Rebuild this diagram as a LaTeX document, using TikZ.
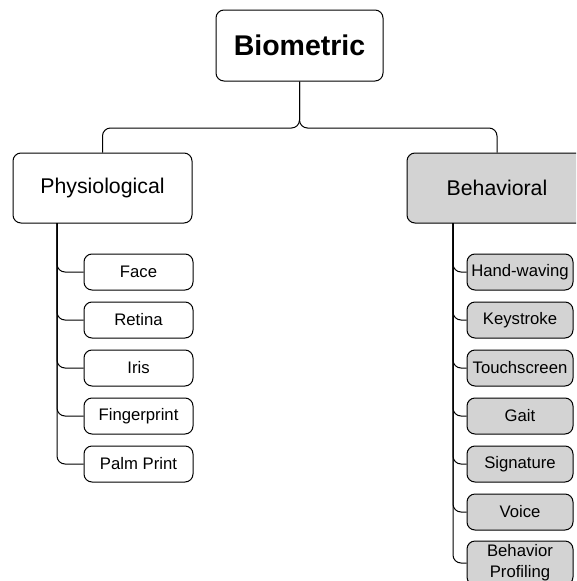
\documentclass[tikz,border=0pt]{standalone}
\usepackage{fontspec}
\setmainfont{Liberation Sans}
\definecolor{boxgray}{RGB}{211,211,211}
\begin{document}
\begin{tikzpicture}[x=1pt,y=-1pt,
  base/.style={draw=black,line width=1pt,rounded corners=8pt,inner sep=0pt,align=center},
  topbox/.style={base,minimum width=167pt,minimum height=71pt,font=\fontsize{28.5}{32}\selectfont\bfseries},
  midbox/.style={base,minimum width=179pt,minimum height=70pt,font=\fontsize{21.3}{25}\selectfont},
  leaf/.style={base,minimum width=109pt,minimum height=36pt,font=\fontsize{16.7}{22}\selectfont},
  gleaf/.style={leaf,fill=boxgray,minimum width=106pt},
  conn/.style={draw=black,line width=1pt,rounded corners=8pt}]
\useasboundingbox (0,0) rectangle (576,581);
\clip (0,0) rectangle (576,581);
\node[topbox] (bio) at (299.5,45.5) {Biometric};
\node[midbox] (phys) at (102.5,188) {Physiological};
\node[midbox,fill=boxgray,minimum width=180pt] (beh) at (497,188) {Behavioral};
\coordinate (bus) at (299.5,128);
\draw[conn] (bio.south) -- (bus) -| (phys.north);
\draw[conn] (bio.south) -- (bus) -| (beh.north);
% left leaves
\node[leaf] (face) at (138.5,272) {Face};
\node[leaf] (retina) at (138.5,320) {Retina};
\node[leaf] (iris) at (138.5,368) {Iris};
\node[leaf] (finger) at (138.5,416) {Fingerprint};
\node[leaf] (palm) at (138.5,464) {Palm Print};
\coordinate (pl) at (57,223);
\foreach \n in {face,retina,iris,finger,palm}
  \draw[conn] (pl) |- (\n.west);
% right leaves
\node[gleaf] (hand) at (520,272) {Hand-waving};
\node[gleaf] (key) at (520,320) {Keystroke};
\node[gleaf] (touch) at (520,368) {Touchscreen};
\node[gleaf] (gait) at (520,416) {Gait};
\node[gleaf] (sig) at (520,464) {Signature};
\node[gleaf] (voice) at (520,512) {Voice};
\node[gleaf,minimum height=44pt,font=\fontsize{16.7}{21}\selectfont] (prof) at (520,563) {Behavior\\Profiling};
\coordinate (bl) at (453,223);
\foreach \n in {hand,key,touch,gait,sig,voice,prof}
  \draw[conn] (bl) |- (\n.west);
\end{tikzpicture}
\end{document}
